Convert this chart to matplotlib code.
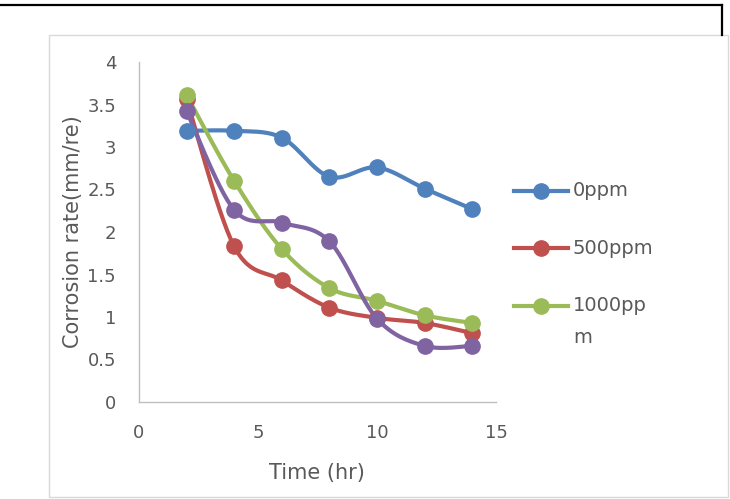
import numpy as np
import matplotlib
matplotlib.use("Agg")
import matplotlib.pyplot as plt
from matplotlib.lines import Line2D
from matplotlib.patches import Rectangle

# ---- data ----
time_hr = [2, 4, 6, 8, 10, 12, 14]
rate_0ppm = [3.19, 3.19, 3.11, 2.65, 2.76, 2.51, 2.27]
rate_500ppm = [3.56, 1.83, 1.43, 1.11, 0.99, 0.93, 0.81]
rate_1000ppm = [3.61, 2.60, 1.80, 1.34, 1.19, 1.02, 0.93]
rate_extra = [3.42, 2.26, 2.11, 1.89, 0.98, 0.66, 0.66]
series_labels = ["0ppm", "500ppm", "1000pp\nm", None]
colors = ["#4F81BD", "#C0504D", "#9BBB59", "#8064A2"]
x_ticks = [0, 5, 10, 15]
y_ticks = [0, 0.5, 1, 1.5, 2, 2.5, 3, 3.5, 4]
y_tick_labels = ["0", "0.5", "1", "1.5", "2", "2.5", "3", "3.5", "4"]
x_label = "Time (hr)"
y_label = "Corrosion rate(mm/re)"

W, H = 730, 499
FONT = "DejaVu Sans"
TXT = "#595959"

fig = plt.figure(figsize=(W / 100, H / 100), dpi=100)


def fx(x):
    return x / W


def fy(y):
    return 1 - y / H


# outer black border (partial) and grey chart frame
fig.add_artist(Line2D([fx(0), fx(722)], [fy(4.5), fy(4.5)], color="black", lw=1.6))
fig.add_artist(Line2D([fx(722), fx(722)], [fy(4.5), fy(35)], color="black", lw=1.6))
fig.add_artist(Rectangle((fx(49), fy(497)), fx(728) - fx(49), fy(35) - fy(497),
                         fill=False, edgecolor="#D9D9D9", lw=1.0))

ax = fig.add_axes([fx(139), fy(402), fx(496) - fx(139), fy(62) - fy(402)])
ax.set_xlim(0, 15)
ax.set_ylim(0, 4)
for s in ["top", "right"]:
    ax.spines[s].set_visible(False)
for s in ["left", "bottom"]:
    ax.spines[s].set_color("#BFBFBF")
    ax.spines[s].set_linewidth(1.0)
ax.set_xticks(x_ticks)
ax.set_yticks(y_ticks)
ax.set_yticklabels(y_tick_labels)
ax.tick_params(axis="both", length=0, labelcolor=TXT, labelsize=13)
ax.tick_params(axis="x", pad=15.5)
ax.tick_params(axis="y", pad=16.5)
for lab in ax.get_xticklabels() + ax.get_yticklabels():
    lab.set_fontfamily(FONT)

fig.text(fx(317), fy(473), x_label, fontsize=15, color=TXT, fontfamily=FONT,
         ha="center", va="center")
fig.text(fx(72.5), fy(231.5), y_label, fontsize=15, color=TXT, fontfamily=FONT,
         ha="center", va="center", rotation=90)

fig.canvas.draw()


def smooth(xs, ys, n=30):
    # Catmull-Rom style Bezier smoothing computed in display space
    pts = ax.transData.transform(np.column_stack([xs, ys]))
    out = [pts[0]]
    m = len(pts)
    for i in range(m - 1):
        p0 = pts[i - 1] if i > 0 else pts[i]
        p1 = pts[i]
        p2 = pts[i + 1]
        p3 = pts[i + 2] if i + 2 < m else pts[i + 1]
        c1 = p1 + (p2 - p0) / 6.0
        c2 = p2 - (p3 - p1) / 6.0
        t = np.linspace(0, 1, n)[1:, None]
        seg = ((1 - t) ** 3) * p1 + 3 * ((1 - t) ** 2) * t * c1 + 3 * (1 - t) * t ** 2 * c2 + t ** 3 * p2
        out.extend(seg)
    out = np.array(out)
    d = ax.transData.inverted().transform(out)
    return d[:, 0], d[:, 1]


all_series = [rate_0ppm, rate_500ppm, rate_1000ppm, rate_extra]
for vals, col in zip(all_series, colors):
    sx, sy = smooth(time_hr, vals)
    ax.plot(sx, sy, color=col, lw=3.0, solid_capstyle="round", zorder=2)
    ax.plot(time_hr, vals, "o", color=col, ms=11, mec=col, zorder=3, clip_on=False)

# legend (manual, Excel style: handle aligned with first text line)
leg_y = [190.7, 248, 305.7]
for yy, lab, col in zip(leg_y, series_labels[:3], colors[:3]):
    fig.add_artist(Line2D([fx(514), fx(568)], [fy(yy), fy(yy)], color=col, lw=3.0))
    fig.add_artist(Line2D([fx(541)], [fy(yy)], marker="o", color=col, ms=11))
    lines = lab.split("\n")
    for k, ln in enumerate(lines):
        fig.text(fx(573), fy(yy + k * 31.5), ln, fontsize=14, color=TXT,
                 fontfamily=FONT, ha="left", va="center")

fig.savefig("out.png", dpi=100)
